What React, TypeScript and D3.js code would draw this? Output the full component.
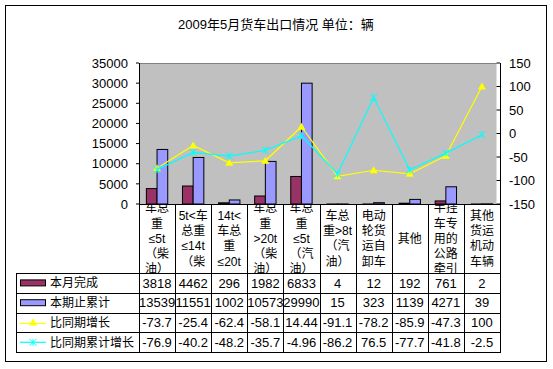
import React from "react";
import * as d3 from "d3";

const title = "2009年5月货车出口情况 单位：辆";
const categoryLines: string[][] = [
  ["车总", "重", "≤5t", "（柴", "油）"],
  ["5t<车", "总重", "≤14t", "（柴"],
  ["14t<", "车总", "重", "≤20t"],
  ["车总", "重", ">20t", "（柴", "油）"],
  ["车总", "重", "≤5t", "（汽", "油）"],
  ["车总", "重>8t", "（汽", "油）"],
  ["电动", "轮货", "运自", "卸车"],
  ["其他"],
  ["半挂", "车专", "用的", "公路", "牵引"],
  ["其他", "货运", "机动", "车辆"],
];
const categories = categoryLines.map((l) => l.join(""));
const monthly = [3818, 4462, 296, 1982, 6833, 4, 12, 192, 761, 2];
const cumulative = [13539, 11551, 1002, 10573, 29990, 15, 323, 1139, 4271, 39];
const yoy = [-73.7, -25.4, -62.4, -58.1, 14.44, -91.1, -78.2, -85.9, -47.3, 100];
const cumYoy = [-76.9, -40.2, -48.2, -35.7, -4.96, -86.2, 76.5, -77.7, -41.8, -2.5];
const seriesNames = ["本月完成", "本期止累计", "比同期增长", "比同期累计增长"];
const leftTicks = [0, 5000, 10000, 15000, 20000, 25000, 30000, 35000];
const rightTicks = [-150, -100, -50, 0, 50, 100, 150];

const FONT = "'Liberation Sans', Arial, 'Noto Sans CJK SC', sans-serif";
const C_DARK = "#993366";
const C_LIGHT = "#9999FF";
const C_YEL = "#FFFF00";
const C_CYAN = "#00FFFF";

function Triangle({ x, y }: { x: number; y: number }) {
  return <path d={`M${x},${y - 4}L${x + 4},${y + 3}L${x - 4},${y + 3}Z`} fill={C_YEL} />;
}
function Star({ x, y }: { x: number; y: number }) {
  const s = 3.5;
  return (
    <path
      d={`M${x - s},${y - s}L${x + s},${y + s}M${x - s},${y + s}L${x + s},${y - s}M${x},${y - s}L${x},${y + s}`}
      stroke={C_CYAN}
      strokeWidth={1}
    />
  );
}

export default function App() {
  const plotL = 139, plotR = 500, plotT = 63, plotB = 204, grayR = 496.5;
  const tableL = 16;
  const rowY = [273, 292.8, 312.6, 332.4, 352.2];
  const x = d3.scaleBand<number>().domain(d3.range(categories.length)).range([plotL, plotR]).padding(0);
  const yL = d3.scaleLinear().domain([0, 35000]).range([plotB, plotT]);
  const yR = d3.scaleLinear().domain([-150, 150]).range([plotB, plotT]);
  const bw = x.bandwidth() * 0.296;
  const cx = (i: number) => (x(i) as number) + x.bandwidth() / 2;
  const line = d3.line<number>().x((_, i) => cx(i)).y((d) => yR(d));
  const rows = [monthly, cumulative, yoy, cumYoy];
  const labelMid = (plotB + rowY[0]) / 2;
  const lh = 15.3;

  return (
    <svg width={553} height={369} style={{ position: "absolute", left: 0, top: 0 }} fontFamily={FONT}>
      <rect x={0} y={0} width={553} height={369} fill="#fff" />
      <rect x={5.5} y={5.5} width={541} height={356} fill="#fff" stroke="#000" strokeWidth={1} />
      <text x={276} y={29} textAnchor="middle" fontSize={13}>{title}</text>

      {/* plot area */}
      <rect x={plotL} y={plotT} width={grayR - plotL} height={plotB - plotT} fill="#C0C0C0" />
      <line x1={plotL} x2={grayR} y1={plotT + 0.5} y2={plotT + 0.5} stroke="#808080" />

      {/* bars */}
      {monthly.map((v, i) => (
        <rect key={"m" + i} x={cx(i) - bw} y={yL(v)} width={bw} height={plotB - yL(v)} fill={C_DARK} stroke="#000" strokeWidth={1} />
      ))}
      {cumulative.map((v, i) => (
        <rect key={"c" + i} x={cx(i)} y={yL(v)} width={bw} height={plotB - yL(v)} fill={C_LIGHT} stroke="#000" strokeWidth={1} />
      ))}

      {/* lines */}
      <path d={line(yoy) || ""} fill="none" stroke={C_YEL} strokeWidth={1.2} />
      {yoy.map((v, i) => <Triangle key={"t" + i} x={cx(i)} y={yR(v)} />)}
      <path d={line(cumYoy) || ""} fill="none" stroke={C_CYAN} strokeWidth={1.2} />
      {cumYoy.map((v, i) => <Star key={"s" + i} x={cx(i)} y={yR(v)} />)}

      {/* left axis */}
      <line x1={plotL + 0.5} x2={plotL + 0.5} y1={plotT} y2={plotB} stroke="#000" />
      {leftTicks.map((t) => (
        <g key={"lt" + t}>
          <line x1={plotL - 3} x2={plotL} y1={yL(t)} y2={yL(t)} stroke="#000" />
          <text x={128} y={yL(t)} dy="0.36em" textAnchor="end" fontSize={13}>{t}</text>
        </g>
      ))}
      {/* right axis */}
      <line x1={plotR + 0.5} x2={plotR + 0.5} y1={plotT} y2={plotB} stroke="#000" />
      {rightTicks.map((t) => (
        <g key={"rt" + t}>
          <line x1={plotR - 3.5} x2={plotR} y1={yR(t)} y2={yR(t)} stroke="#000" />
          <text x={509} y={yR(t)} dy="0.36em" textAnchor="start" fontSize={13}>{t}</text>
        </g>
      ))}
      <line x1={plotL} x2={plotR} y1={plotB + 0.5} y2={plotB + 0.5} stroke="#000" />

      {/* category label row */}
      <defs>
        {categories.map((_, i) => (
          <clipPath key={"cp" + i} id={"cp" + i}>
            <rect x={x(i)} y={plotB + 1} width={x.bandwidth()} height={rowY[0] - plotB - 1} />
          </clipPath>
        ))}
      </defs>
      {categoryLines.map((lines, i) => (
        <g key={"cl" + i} clipPath={`url(#cp${i})`}>
          {lines.map((s, j) => (
            <text key={j} x={cx(i)} y={labelMid + (j - (lines.length - 1) / 2) * lh} dy="0.36em" textAnchor="middle" fontSize={12}>{s}</text>
          ))}
        </g>
      ))}
      {d3.range(categories.length + 1).map((i) => {
        const xx = Math.round(plotL + x.bandwidth() * i) + 0.5;
        return <line key={"v" + i} x1={xx} x2={xx} y1={plotB} y2={rowY[4]} stroke="#000" />;
      })}

      {/* table */}
      {rowY.map((yy, k) => (
        <line key={"h" + k} x1={tableL} x2={plotR + 1} y1={Math.round(yy) + 0.5} y2={Math.round(yy) + 0.5} stroke="#000" />
      ))}
      <line x1={tableL + 0.5} x2={tableL + 0.5} y1={rowY[0]} y2={rowY[4]} stroke="#000" />
      {rows.map((vals, r) => {
        const my = (rowY[r] + rowY[r + 1]) / 2;
        return (
          <g key={"r" + r}>
            {vals.map((v, i) => (
              <text key={i} x={cx(i)} y={my} dy="0.36em" textAnchor="middle" fontSize={13}>{String(v)}</text>
            ))}
            <text x={50} y={my} dy="0.36em" fontSize={12}>{seriesNames[r]}</text>
          </g>
        );
      })}
      {/* legend keys */}
      <rect x={20.5} y={(rowY[0] + rowY[1]) / 2 - 3} width={25} height={6} fill={C_DARK} stroke="#000" />
      <rect x={20.5} y={(rowY[1] + rowY[2]) / 2 - 3} width={25} height={6} fill={C_LIGHT} stroke="#000" />
      <line x1={20} x2={46} y1={(rowY[2] + rowY[3]) / 2 + 1} y2={(rowY[2] + rowY[3]) / 2 + 1} stroke={C_YEL} strokeWidth={1.2} />
      <Triangle x={33} y={(rowY[2] + rowY[3]) / 2} />
      <line x1={20} x2={46} y1={(rowY[3] + rowY[4]) / 2} y2={(rowY[3] + rowY[4]) / 2} stroke={C_CYAN} strokeWidth={1.2} />
      <Star x={33} y={(rowY[3] + rowY[4]) / 2} />
    </svg>
  );
}
